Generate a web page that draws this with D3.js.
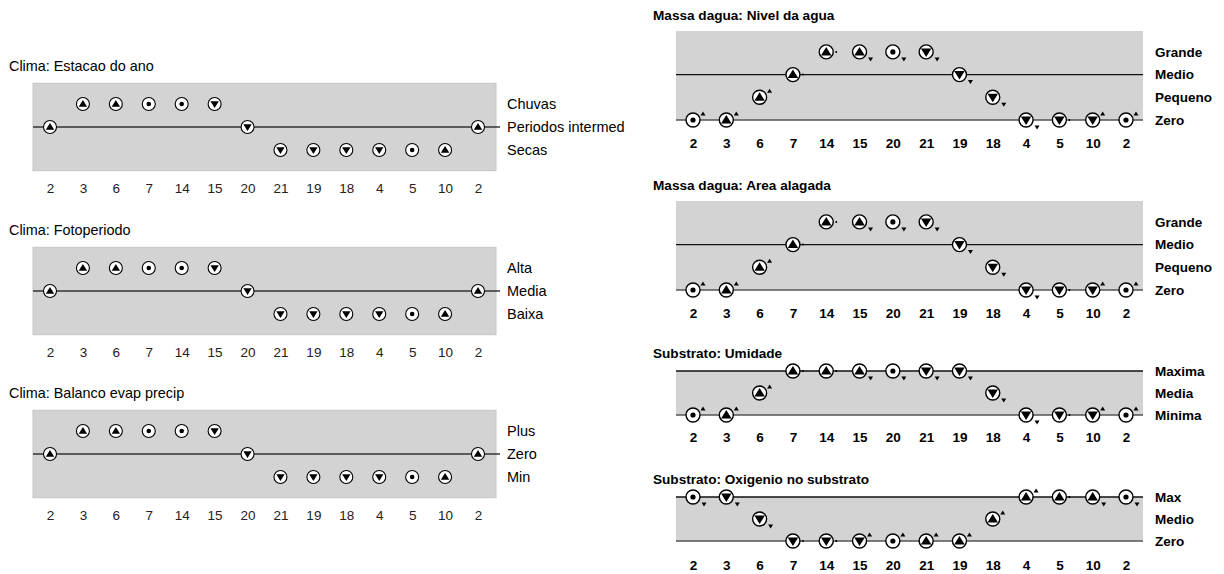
<!DOCTYPE html>
<html>
<head>
<meta charset="utf-8">
<script src="https://cdn.jsdelivr.net/npm/d3@7"></script>
<style>
body { margin: 0; background: #fff; }
svg text { font-family: "Liberation Sans", Arial, sans-serif; }
</style>
</head>
<body>
<div id="chart"></div>
<script>
// states on the x axis (same sequence in every panel)
var states = ["2", "3", "6", "7", "14", "15", "20", "21", "19", "18", "4", "5", "10", "2"];

// Clima panels: level index (0 = lower, 1 = landmark, 2 = upper) and direction
var estacaoLabels = ["Secas", "Periodos intermed", "Chuvas"];
var estacaoVal = [1, 2, 2, 2, 2, 2, 1, 0, 0, 0, 0, 0, 0, 1];
var estacaoDir = ["inc", "inc", "inc", "std", "std", "dec", "dec", "dec", "dec", "dec", "dec", "std", "inc", "inc"];

var fotoLabels = ["Baixa", "Media", "Alta"];
var fotoVal = [1, 2, 2, 2, 2, 2, 1, 0, 0, 0, 0, 0, 0, 1];
var fotoDir = ["inc", "inc", "inc", "std", "std", "dec", "dec", "dec", "dec", "dec", "dec", "std", "inc", "inc"];

var balancoLabels = ["Min", "Zero", "Plus"];
var balancoVal = [1, 2, 2, 2, 2, 2, 1, 0, 0, 0, 0, 0, 0, 1];
var balancoDir = ["inc", "inc", "inc", "std", "std", "dec", "dec", "dec", "dec", "dec", "dec", "std", "inc", "inc"];

// Massa dagua / Substrato panels: level, direction and second derivative
var nivelLabels = ["Zero", "Pequeno", "Medio", "Grande"];
var nivelVal = [0, 0, 1, 2, 3, 3, 3, 3, 2, 1, 0, 0, 0, 0];
var nivelDir = ["std", "inc", "inc", "inc", "inc", "inc", "std", "dec", "dec", "dec", "dec", "dec", "dec", "std"];
var nivelAcc = ["up", "up", "up", "zero", "zero", "down", "down", "down", "down", "down", "down", "zero", "up", "up"];

var areaLabels = ["Zero", "Pequeno", "Medio", "Grande"];
var areaVal = [0, 0, 1, 2, 3, 3, 3, 3, 2, 1, 0, 0, 0, 0];
var areaDir = ["std", "inc", "inc", "inc", "inc", "inc", "std", "dec", "dec", "dec", "dec", "dec", "dec", "std"];
var areaAcc = ["up", "up", "up", "zero", "zero", "down", "down", "down", "down", "down", "down", "zero", "up", "up"];

var umidLabels = ["Minima", "Media", "Maxima"];
var umidVal = [0, 0, 1, 2, 2, 2, 2, 2, 2, 1, 0, 0, 0, 0];
var umidDir = ["std", "inc", "inc", "inc", "inc", "inc", "std", "dec", "dec", "dec", "dec", "dec", "dec", "std"];
var umidAcc = ["up", "up", "up", "zero", "zero", "down", "down", "down", "down", "down", "down", "zero", "up", "up"];

var oxiLabels = ["Zero", "Medio", "Max"];
var oxiVal = [2, 2, 1, 0, 0, 0, 0, 0, 0, 1, 2, 2, 2, 2];
var oxiDir = ["std", "dec", "dec", "dec", "dec", "dec", "std", "inc", "inc", "inc", "inc", "inc", "inc", "std"];
var oxiAcc = ["down", "down", "down", "zero", "zero", "up", "up", "up", "up", "up", "up", "zero", "down", "down"];

var width = 1224, height = 574;

var svg = d3.select('#chart').append('svg')
    .attr('width', width)
    .attr('height', height);

// layout of each panel
var leftPanels = [
    {title: "Clima: Estacao do ano", labels: estacaoLabels, val: estacaoVal, dir: estacaoDir, mid: 127},
    {title: "Clima: Fotoperiodo", labels: fotoLabels, val: fotoVal, dir: fotoDir, mid: 291},
    {title: "Clima: Balanco evap precip", labels: balancoLabels, val: balancoVal, dir: balancoDir, mid: 454}
];

var rightPanels = [
    {title: "Massa dagua: Nivel da agua", labels: nivelLabels, val: nivelVal, dir: nivelDir, acc: nivelAcc,
     base: 120, step: 22.7, top: 31, landmarks: [0, 2], titleY: 15, tickY: 143},
    {title: "Massa dagua: Area alagada", labels: areaLabels, val: areaVal, dir: areaDir, acc: areaAcc,
     base: 290, step: 22.7, top: 201, landmarks: [0, 2], titleY: 185, tickY: 313},
    {title: "Substrato: Umidade", labels: umidLabels, val: umidVal, dir: umidDir, acc: umidAcc,
     base: 415, step: 22, top: 371, landmarks: [0, 2], titleY: 353, tickY: 437},
    {title: "Substrato: Oxigenio no substrato", labels: oxiLabels, val: oxiVal, dir: oxiDir, acc: oxiAcc,
     base: 541, step: 22, top: 497, landmarks: [0, 2], titleY: 479, tickY: 565}
];

var idx = d3.range(states.length);

// draws the circle + direction glyph (+ optional second derivative mark)
function drawSymbol(sel, dir, acc, big) {
    var r = big ? 7 : 6.5;
    var t = big ? 5 : 4;
    sel.append("circle")
        .attr("r", r)
        .attr("fill", "#fff")
        .attr("stroke", "#000")
        .attr("stroke-width", big ? 1.4 : 1.1);
    if (dir == "inc") {
        sel.append("path")
            .attr("d", "M0," + (-t) + "L" + (t * 1.05) + "," + (t * 0.7) + "L" + (-t * 1.05) + "," + (t * 0.7) + "Z")
            .attr("fill", "#000");
    } else if (dir == "dec") {
        sel.append("path")
            .attr("d", "M0," + t + "L" + (t * 1.05) + "," + (-t * 0.7) + "L" + (-t * 1.05) + "," + (-t * 0.7) + "Z")
            .attr("fill", "#000");
    } else {
        sel.append("circle").attr("r", big ? 2.6 : 2.3).attr("fill", "#000");
    }
    if (acc == "up") {
        sel.append("path").attr("d", "M10,-8.5L12.5,-4.5L7.5,-4.5Z").attr("fill", "#000");
    } else if (acc == "down") {
        sel.append("path").attr("d", "M11,9.5L13.5,5.5L8.5,5.5Z").attr("fill", "#000");
    } else if (acc == "zero") {
        sel.append("circle").attr("cx", 10).attr("cy", 0).attr("r", 1).attr("fill", "#000");
    }
}

// ---- left column (Clima) ----
var xLeft = d3.scalePoint().domain(idx).range([50, 478]);

leftPanels.forEach(function(p) {
    var g = svg.append('g');
    var scaleY = d3.scaleLinear().domain([0, 2]).range([p.mid + 23, p.mid - 23]);

    g.append("text")
        .attr("x", 9).attr("y", p.mid - 61)
        .attr("dy", "0.35em")
        .attr("font-size", 14.4)
        .text(p.title);

    g.append("rect")
        .attr("x", 33).attr("y", scaleY(2.9))
        .attr("width", 496 - 33).attr("height", scaleY(-0.9) - scaleY(2.9))
        .attr("fill", "#d3d3d3")
        .attr("stroke", "#c6c6c6");

    g.append("line")
        .attr("x1", 33).attr("x2", 500)
        .attr("y1", scaleY(1)).attr("y2", scaleY(1))
        .attr("stroke", "#333").attr("stroke-width", 1.3);

    g.selectAll(".lvl").data(p.labels).enter().append("text")
        .attr("class", "lvl")
        .attr("x", 507)
        .attr("y", function(d, i) { return scaleY(i); })
        .attr("dy", "0.35em")
        .attr("font-size", 14.5)
        .text(function(d) { return d; });

    var axis = d3.axisBottom(xLeft).tickSize(0).tickFormat(function(i) { return states[i]; });
    var ax = g.append('g')
        .attr("transform", "translate(0," + (p.mid + 53) + ")")
        .call(axis);
    ax.select(".domain").remove();
    ax.selectAll("text").attr("font-size", 13.5).attr("fill", "#222")
        .style("font-family", "'Liberation Sans', Arial, sans-serif");

    g.selectAll(".sym").data(idx).enter().append("g")
        .attr("class", "sym")
        .attr("transform", function(i) { return "translate(" + xLeft(i) + "," + scaleY(p.val[i]) + ")"; })
        .each(function(i) { drawSymbol(d3.select(this), p.dir[i], null, false); });
});

// ---- right column (Massa dagua / Substrato) ----
var xRight = d3.scalePoint().domain(idx).range([693, 1126]);

rightPanels.forEach(function(p) {
    var g = svg.append('g');
    var n = p.labels.length - 1;
    var scaleY = d3.scaleLinear().domain([0, n]).range([p.base, p.base - n * p.step]);

    g.append("text")
        .attr("x", 653).attr("y", p.titleY)
        .attr("dy", "0.35em")
        .attr("font-size", 13.6)
        .attr("font-weight", "bold")
        .text(p.title);

    g.append("rect")
        .attr("x", 676).attr("y", p.top)
        .attr("width", 1143 - 676).attr("height", p.base - p.top)
        .attr("fill", "#d3d3d3");

    g.selectAll(".lm").data(p.landmarks).enter().append("line")
        .attr("class", "lm")
        .attr("x1", 676).attr("x2", 1143)
        .attr("y1", function(l) { return scaleY(l); })
        .attr("y2", function(l) { return scaleY(l); })
        .attr("stroke", function(l) { return l == 0 ? "#555" : "#111"; })
        .attr("stroke-width", 1.3);

    g.selectAll(".lvl").data(p.labels).enter().append("text")
        .attr("class", "lvl")
        .attr("x", 1155)
        .attr("y", function(d, i) { return scaleY(i); })
        .attr("dy", "0.35em")
        .attr("font-size", 13.5)
        .attr("font-weight", "bold")
        .text(function(d) { return d; });

    var axis = d3.axisBottom(xRight).tickSize(0).tickFormat(function(i) { return states[i]; });
    var ax = g.append('g')
        .attr("transform", "translate(0," + (p.tickY - 8) + ")")
        .call(axis);
    ax.select(".domain").remove();
    ax.selectAll("text").attr("font-size", 13.5).attr("font-weight", "bold").attr("fill", "#000")
        .style("font-family", "'Liberation Sans', Arial, sans-serif");

    g.selectAll(".sym").data(idx).enter().append("g")
        .attr("class", "sym")
        .attr("transform", function(i) { return "translate(" + xRight(i) + "," + scaleY(p.val[i]) + ")"; })
        .each(function(i) { drawSymbol(d3.select(this), p.dir[i], p.acc[i], true); });
});
</script>
</body>
</html>
